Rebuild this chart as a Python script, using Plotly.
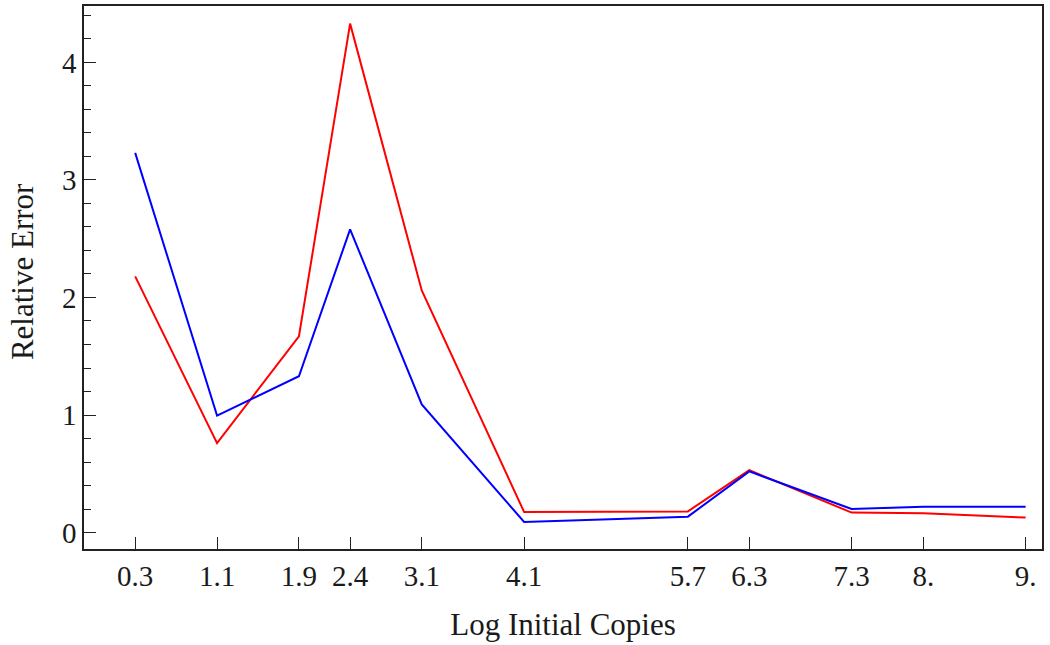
import plotly.graph_objects as go

x_vals = [0.3, 1.1, 1.9, 2.4, 3.1, 4.1, 5.7, 6.3, 7.3, 8.0, 9.0]
x_labels = ["0.3", "1.1", "1.9", "2.4", "3.1", "4.1", "5.7", "6.3", "7.3", "8.", "9."]
red_vals = [2.18, 0.76, 1.67, 4.33, 2.06, 0.175, 0.18, 0.53, 0.17, 0.165, 0.127]
blue_vals = [3.23, 0.995, 1.33, 2.58, 1.09, 0.09, 0.135, 0.52, 0.20, 0.22, 0.22]
y_ticks = [0, 1, 2, 3, 4]

fig = go.Figure()
fig.add_trace(go.Scatter(x=x_vals, y=red_vals, mode="lines",
                         line=dict(color="#ff0000", width=2), showlegend=False))
fig.add_trace(go.Scatter(x=x_vals, y=blue_vals, mode="lines",
                         line=dict(color="#0000ff", width=2), showlegend=False))

tick_font = dict(family="Liberation Serif", size=29, color="#1a1a1a")
title_font = dict(family="Liberation Serif", size=31, color="#1a1a1a")
fig.update_layout(
    width=1050, height=645,
    margin=dict(l=84, r=8, t=4, b=96),
    paper_bgcolor="white", plot_bgcolor="white",
    font=tick_font,
    xaxis=dict(range=[-0.2, 9.16], tickvals=x_vals, ticktext=x_labels,
               ticks="inside", ticklen=12, tickwidth=1.3, tickcolor="#222",
               showline=True, linecolor="#222", linewidth=1.5, mirror=True,
               showgrid=False, zeroline=False,
               title=dict(text="Log Initial Copies", font=title_font, standoff=23),
               tickfont=tick_font),
    yaxis=dict(range=[-0.14, 4.48], tickvals=y_ticks, ticktext=[str(v) for v in y_ticks],
               ticks="inside", ticklen=12, tickwidth=1.3, tickcolor="#222",
               minor=dict(ticks="inside", dtick=0.2, tick0=0, ticklen=7, tickwidth=1.3, tickcolor="#222", showgrid=False),
               showline=True, linecolor="#222", linewidth=1.5, mirror=True,
               showgrid=False, zeroline=False,
               tickfont=tick_font),
    annotations=[dict(text="Relative Error", font=title_font, textangle=-90,
                      xref="paper", yref="paper", x=0, y=0.51,
                      xanchor="center", yanchor="middle", xshift=-62,
                      showarrow=False)],
)
fig.write_html("out.html", config={"displayModeBar": False},
               post_script="document.body.style.margin='0px';")
